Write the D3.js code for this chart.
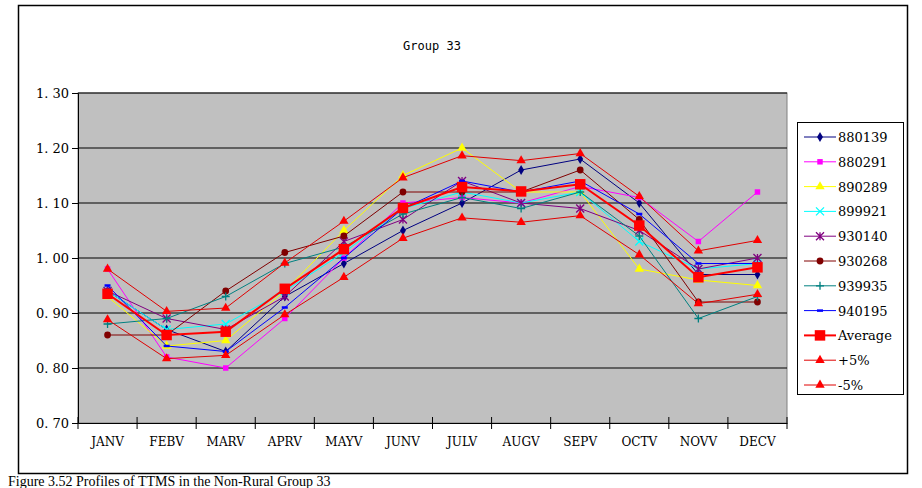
<!DOCTYPE html>
<html><head><meta charset="utf-8">
<script src="https://cdn.jsdelivr.net/npm/d3@7.9.0/dist/d3.min.js"></script>
<style>body{margin:0;background:#fff} svg text{font-family:"DejaVu Serif","Liberation Serif",serif}</style>
</head><body>
<svg id="chart" width="922" height="488"></svg>
<script>
const months = ["JANV","FEBV","MARV","APRV","MAYV","JUNV","JULV","AUGV","SEPV","OCTV","NOVV","DECV"];
const yTicks = [0.7,0.8,0.9,1.0,1.1,1.2,1.3];
const names = ["880139","880291","890289","899921","930140","930268","939935","940195","Average","+5%","-5%"];
const s880139 = [0.94,0.87,0.83,0.93,0.99,1.05,1.10,1.16,1.18,1.10,0.97,0.97];
const s880291 = [0.98,0.82,0.80,0.89,1.00,1.10,1.11,1.10,1.13,1.11,1.03,1.12];
const s890289 = [0.93,0.84,0.85,0.94,1.05,1.15,1.20,1.12,1.12,0.98,0.96,0.95];
const s899921 = [0.94,0.87,0.88,0.94,1.01,1.09,1.12,1.10,1.12,1.03,0.98,0.99];
const s930140 = [0.94,0.89,0.87,0.93,1.03,1.07,1.14,1.10,1.09,1.05,0.98,1.00];
const s930268 = [0.86,0.86,0.94,1.01,1.04,1.12,1.12,1.12,1.16,1.07,0.92,0.92];
const s939935 = [0.88,0.89,0.93,0.99,1.02,1.08,1.11,1.09,1.12,1.04,0.89,0.93];
const s940195 = [0.95,0.84,0.83,0.91,1.00,1.09,1.14,1.12,1.14,1.08,0.99,0.99];
const sAverage = [0.935,0.86,0.866,0.944,1.016,1.091,1.129,1.121,1.134,1.059,0.965,0.983];
const sPlus = [0.98,0.903,0.909,0.991,1.067,1.146,1.186,1.177,1.190,1.112,1.013,1.032];
const sMinus = [0.888,0.817,0.823,0.897,0.965,1.036,1.073,1.065,1.077,1.006,0.917,0.934];

const series = [
  {v:s880139, c:"#000080", m:"diamond"},
  {v:s880291, c:"#ff00ff", m:"square"},
  {v:s890289, c:"#ffff00", m:"triangle"},
  {v:s899921, c:"#00ffff", m:"x"},
  {v:s930140, c:"#800080", m:"star"},
  {v:s930268, c:"#800000", m:"circle"},
  {v:s939935, c:"#008080", m:"plus"},
  {v:s940195, c:"#0000ff", m:"dash"},
  {v:sAverage, c:"#ff0000", m:"bigsquare", w:2},
  {v:sPlus, c:"#ff0000", m:"triangle", lc:"#e00000"},
  {v:sMinus, c:"#ff0000", m:"triangle", lc:"#e00000"}
];

const svg = d3.select("#chart");
svg.append("rect").attr("x",18.5).attr("y",5.5).attr("width",889).attr("height",468)
  .attr("fill","#fff").attr("stroke","#000").attr("stroke-width",1.5);

const margin = {left:78, top:93, right:787, bottom:423};
const x = d3.scaleBand().domain(months).range([margin.left, margin.right]);
const y = d3.scaleLinear().domain([0.7,1.3]).range([margin.bottom, margin.top]);

svg.append("rect").attr("x",margin.left).attr("y",margin.top)
  .attr("width",margin.right-margin.left).attr("height",margin.bottom-margin.top)
  .attr("fill","#c0c0c0").attr("stroke","#808080");

svg.append("g").selectAll("line").data(yTicks.slice(1)).join("line")
  .attr("x1",margin.left).attr("x2",margin.right)
  .attr("y1",d=>y(d)).attr("y2",d=>y(d)).attr("stroke","#000");

const yAxis = svg.append("g").attr("transform",`translate(${margin.left},0)`)
  .call(d3.axisLeft(y).tickValues(yTicks).tickSize(6).tickFormat(d=>d3.format(".2f")(d).replace(".",". ")));
const xAxis = svg.append("g").attr("transform",`translate(0,${margin.bottom})`)
  .call(d3.axisBottom(x).tickSize(0));
xAxis.selectAll("text").attr("dy","1.7em");
svg.append("g").selectAll("line").data(d3.range(months.length+1)).join("line")
  .attr("x1",i=>margin.left+i*x.step()).attr("x2",i=>margin.left+i*x.step())
  .attr("y1",margin.bottom-6).attr("y2",margin.bottom+6).attr("stroke","#000");
[yAxis,xAxis].forEach(a=>{
  a.attr("font-family",null);
  a.select(".domain").attr("stroke","#000");
  a.selectAll("text").attr("font-size",12).attr("fill","#000");
});
yAxis.selectAll("text").attr("font-size",13);

svg.append("text").attr("x",432).attr("y",50).attr("text-anchor","middle")
  .style("font-family","'DejaVu Sans Mono', monospace").attr("font-size",12).text("Group 33");

function marker(g, type, color, cx, cy) {
  const sym = {diamond:d3.symbolDiamond, square:d3.symbolSquare, triangle:d3.symbolTriangle,
    circle:d3.symbolCircle, bigsquare:d3.symbolSquare};
  const size = {diamond:30, square:30, triangle:38, circle:36, bigsquare:110};
  if (sym[type]) {
    g.append("path").attr("d",d3.symbol(sym[type],size[type])())
      .attr("transform",`translate(${cx},${cy})`).attr("fill",color);
  } else {
    const p = d3.path();
    if (type==="x"||type==="star") { p.moveTo(cx-4,cy-4);p.lineTo(cx+4,cy+4);p.moveTo(cx-4,cy+4);p.lineTo(cx+4,cy-4); }
    if (type==="plus"||type==="star") { p.moveTo(cx,cy-4);p.lineTo(cx,cy+4); }
    if (type==="plus") { p.moveTo(cx-4,cy);p.lineTo(cx+4,cy); }
    if (type==="dash") { p.moveTo(cx-3,cy);p.lineTo(cx+3,cy); }
    g.append("path").attr("d",p.toString()).attr("stroke",color).attr("stroke-width",type==="dash"?2.5:1.3).attr("fill","none");
  }
}

const line = d3.line().x((d,i)=>x(months[i])+x.bandwidth()/2).y(d=>y(d));
series.forEach(s=>{
  const g = svg.append("g");
  g.append("path").attr("d",line(s.v)).attr("fill","none")
    .attr("stroke",s.lc||s.c).attr("stroke-width",s.w||1);
  s.v.forEach((d,i)=>marker(g,s.m,s.c,x(months[i])+x.bandwidth()/2,y(d)));
});

const lg = svg.append("g");
lg.append("rect").attr("x",797.5).attr("y",122.5).attr("width",106).attr("height",272)
  .attr("fill","#fff").attr("stroke","#000");
series.forEach((s,i)=>{
  const ly = 137 + i*24.8;
  lg.append("line").attr("x1",804).attr("x2",836).attr("y1",ly).attr("y2",ly)
    .attr("stroke",s.lc||s.c).attr("stroke-width",s.w||1);
  marker(lg,s.m,s.c,820,ly);
  lg.append("text").attr("x",838).attr("y",ly+5).attr("font-size",13).text(names[i]);
});

svg.append("text").attr("x",8).attr("y",486).attr("font-size",14)
  .style("font-family","'Liberation Serif', serif")
  .text("Figure 3.52    Profiles of TTMS in the Non-Rural Group 33");
</script>
</body></html>
